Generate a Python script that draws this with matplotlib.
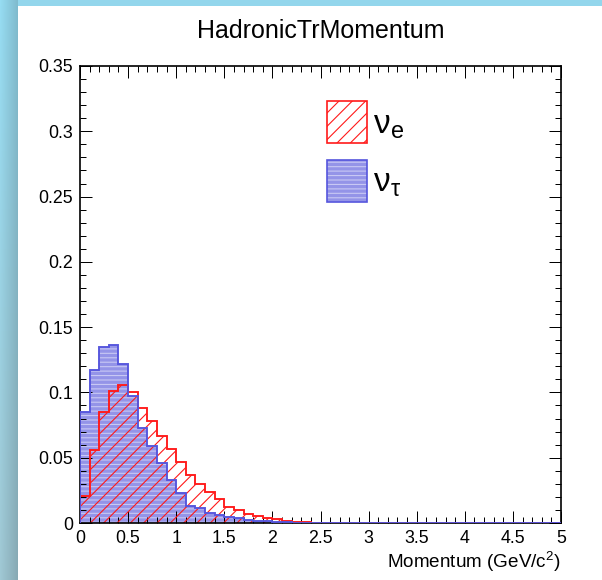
import numpy as np
import matplotlib
matplotlib.use('Agg')
import matplotlib.pyplot as plt
from matplotlib.patches import Patch, Rectangle
from matplotlib.ticker import MultipleLocator

# ---------------- data ----------------
bin_edges = np.round(np.linspace(0.0, 5.0, 51), 2)

nu_e = [0.021, 0.056, 0.085, 0.101, 0.106, 0.100, 0.088, 0.078, 0.067, 0.057,
        0.047, 0.037, 0.030, 0.024, 0.018, 0.012, 0.010, 0.007, 0.0056, 0.0036,
        0.0028, 0.0018, 0.0010, 0.0005, 0.0, 0.0, 0.0, 0.0, 0.0, 0.0,
        0.0, 0.0, 0.0, 0.0, 0.0, 0.0, 0.0, 0.0, 0.0, 0.0,
        0.0, 0.0, 0.0, 0.0, 0.0, 0.0, 0.0, 0.0, 0.0, 0.0]

nu_tau = [0.085, 0.117, 0.135, 0.136, 0.122, 0.097, 0.073, 0.059, 0.046, 0.033,
          0.023, 0.0133, 0.0113, 0.0079, 0.0061, 0.0048, 0.0036, 0.0023, 0.0018, 0.0012,
          0.0008, 0.0005, 0.0003, 0.0002, 0.0, 0.0, 0.0, 0.0, 0.0, 0.0,
          0.0, 0.0, 0.0, 0.0, 0.0, 0.0, 0.0, 0.0, 0.0, 0.0,
          0.0, 0.0, 0.0, 0.0, 0.0, 0.0, 0.0, 0.0, 0.0, 0.0]

x_ticks = [0, 0.5, 1, 1.5, 2, 2.5, 3, 3.5, 4, 4.5, 5]
x_tick_labels = ['0', '0.5', '1', '1.5', '2', '2.5', '3', '3.5', '4', '4.5', '5']
y_ticks = [0, 0.05, 0.1, 0.15, 0.2, 0.25, 0.3, 0.35]
y_tick_labels = ['0', '0.05', '0.1', '0.15', '0.2', '0.25', '0.3', '0.35']

title = 'HadronicTrMomentum'
x_label = r'Momentum (GeV/c$\mathregular{^{2}}$)'
legend_labels = [r'$\mathregular{ν_e}$', r'$\mathregular{ν_τ}$']

# ---------------- style ----------------
plt.rcParams['font.family'] = ['Liberation Sans', 'DejaVu Sans']
plt.rcParams['hatch.linewidth'] = 1.0

W, H, DPI = 602, 580, 80
fig = plt.figure(figsize=(W / DPI, H / DPI), dpi=DPI, facecolor='#93d6ec')

# white canvas
fig.patches.append(Rectangle((18 / W, 0), 1, 574 / H, transform=fig.transFigure,
                             facecolor='white', edgecolor='none', zorder=-10))
# left gradient strip
bg = fig.add_axes([0, 0, 18 / W, 1], zorder=-5)
ny, nx = 100, 18
top = np.array([150, 220, 242]) / 255
bot = np.array([160, 200, 212]) / 255
t = np.linspace(0, 1, ny)[:, None, None]
grad = top * (1 - t) + bot * t
shade = np.linspace(1.0, 0.85, nx)[None, :, None]
img = np.clip(grad * shade, 0, 1)
bg.imshow(img, aspect='auto', extent=(0, 1, 0, 1), origin='upper')
bg.set_axis_off()

ax = fig.add_axes([80 / W, 57 / H, 481 / W, 457 / H])

blue_fill = '#9494e8'
blue_hatch = '#c8c8f4'
blue_line = '#5555dd'
red_line = '#ff1a1a'

ax.stairs(nu_tau, bin_edges, fill=True, facecolor=blue_fill, edgecolor=blue_hatch,
          hatch='---', linewidth=0, zorder=1)
ax.stairs(nu_e, bin_edges, fill=True, facecolor='none', edgecolor=red_line,
          hatch='//', linewidth=0, zorder=2)
ax.stairs(nu_e, bin_edges, color=red_line, linewidth=1.7, zorder=3)
ax.stairs(nu_tau, bin_edges, color=blue_line, linewidth=1.7, zorder=4)

ax.set_xlim(0, 5)
ax.set_ylim(0, 0.35)
ax.set_xticks(x_ticks, x_tick_labels)
ax.set_yticks(y_ticks, y_tick_labels)
ax.xaxis.set_minor_locator(MultipleLocator(0.1))
ax.yaxis.set_minor_locator(MultipleLocator(0.01))
ax.tick_params(which='both', direction='in', top=True, right=True, width=0.9,
               labelsize=16, pad=6)
ax.tick_params(which='major', length=11)
ax.tick_params(which='minor', length=5.5)
for s in ax.spines.values():
    s.set_linewidth(1.5)

fig.text(321 / W, (H - 38) / H, title, ha='center', va='baseline', fontsize=22.5)

ax.set_xlabel(x_label, fontsize=17, loc='right')
ax.xaxis.set_label_coords(1.0, -0.058)

h_e = Patch(facecolor='none', edgecolor=red_line, hatch='//', linewidth=1.5)
h_tau = (Patch(facecolor=blue_fill, edgecolor=blue_hatch, hatch='---', linewidth=0),
         Patch(facecolor='none', edgecolor=blue_line, linewidth=1.5))
ax.legend([h_e, h_tau], legend_labels, loc='upper left', bbox_to_anchor=(0.513, 0.923),
          frameon=False, fontsize=30, handlelength=1.2, handleheight=1.56,
          handletextpad=0.18, labelspacing=0.5, borderpad=0, borderaxespad=0)

fig.savefig('out.png', dpi=DPI, facecolor=fig.get_facecolor())
